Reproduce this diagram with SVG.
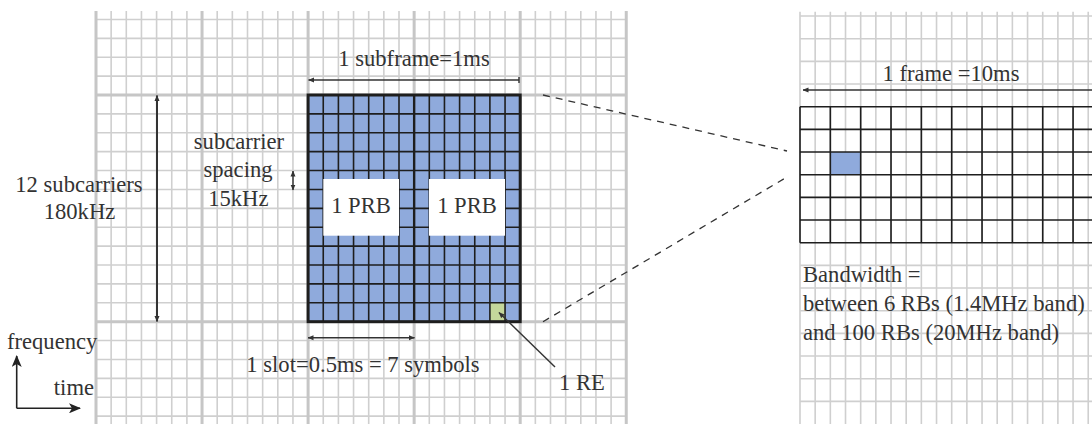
<svg xmlns="http://www.w3.org/2000/svg" width="1092" height="424" viewBox="0 0 1092 424">
<defs>
<style>
.gt{stroke:#cfcfcf;stroke-width:1.6;fill:none}
.gm{stroke:#c6c6c6;stroke-width:3;fill:none}
.bk{stroke:#1e1e1e;stroke-width:1.6;fill:none}
.bko{stroke:#1e1e1e;stroke-width:3;fill:none}
.t{font-family:"Liberation Serif","Times New Roman",serif;font-size:22.6px;fill:#333}
.m{text-anchor:middle}
.ar{stroke:#333;stroke-width:1.4;fill:none}
.dash{stroke:#333;stroke-width:1.3;stroke-dasharray:7 6;fill:none}
</style>
<marker id="sa" viewBox="0 0 6 6" refX="5.5" refY="3" markerWidth="6" markerHeight="6" markerUnits="userSpaceOnUse" orient="auto-start-reverse">
<path d="M0,0.5 L6,3 L0,5.5 Z" fill="#333"/>
</marker>
<marker id="ba" viewBox="0 0 12 10" refX="11" refY="5" markerWidth="13" markerHeight="10" markerUnits="userSpaceOnUse" orient="auto">
<path d="M0,0 L12,5 L0,10 L3,5 Z" fill="#222"/>
</marker>
</defs>
<rect width="1092" height="424" fill="#fff"/>

<g id="left-grid">
<path class="gt" d="M111.15 11V424M126.3 11V424M141.45 11V424M156.6 11V424M171.75 11V424M186.9 11V424M217.2 11V424M232.35 11V424M247.5 11V424M262.65 11V424M277.8 11V424M292.95 11V424M323.25 11V424M338.4 11V424M353.55 11V424M368.7 11V424M383.85 11V424M399 11V424M429.3 11V424M444.45 11V424M459.6 11V424M474.75 11V424M489.9 11V424M505.05 11V424M535.35 11V424M550.5 11V424M565.65 11V424M580.8 11V424M595.95 11V424M611.1 11V424"/>
<path class="gt" d="M96 19.44H626.25M96 38.33H626.25M96 57.22H626.25M96 76.11H626.25M96 113.89H626.25M96 132.78H626.25M96 151.67H626.25M96 170.56H626.25M96 189.45H626.25M96 208.34H626.25M96 227.23H626.25M96 246.12H626.25M96 265.01H626.25M96 283.9H626.25M96 302.79H626.25M96 340.57H626.25M96 359.46H626.25M96 378.35H626.25M96 397.24H626.25M96 416.13H626.25"/>
<path class="gm" d="M96 11V424M202.05 11V424M308.1 11V424M414.15 11V424M520.2 11V424M626.25 11V424M96 95H626.25M96 321.68H626.25"/>
</g>

<g id="right-grid">
<path class="gt" d="M800 11.7V424M815.17 11.7V424M830.34 11.7V424M845.51 11.7V424M860.68 11.7V424M875.85 11.7V424M891.02 11.7V424M906.19 11.7V424M921.36 11.7V424M936.53 11.7V424M951.7 11.7V424M966.87 11.7V424M982.04 11.7V424M997.21 11.7V424M1012.38 11.7V424M1027.55 11.7V424M1042.72 11.7V424M1057.89 11.7V424M1073.06 11.7V424M1088.23 11.7V424"/>
<path class="gt" d="M800 16.02H1092M800 38.69H1092M800 61.36H1092M800 84.03H1092M800 265.39H1092M800 288.06H1092M800 310.73H1092M800 333.4H1092M800 356.07H1092M800 378.74H1092M800 401.41H1092"/>
</g>

<g id="prb-block">
<rect x="308.1" y="95" width="212.1" height="226.68" fill="#8faadc"/>
<rect x="489.9" y="302.79" width="15.15" height="18.89" fill="#c4d79b"/>
<path class="bk" d="M323.25 95V321.68M338.4 95V321.68M353.55 95V321.68M368.7 95V321.68M383.85 95V321.68M399 95V321.68M429.3 95V321.68M444.45 95V321.68M459.6 95V321.68M474.75 95V321.68M489.9 95V321.68M505.05 95V321.68M308.1 113.89H520.2M308.1 132.78H520.2M308.1 151.67H520.2M308.1 170.56H520.2M308.1 189.45H520.2M308.1 208.34H520.2M308.1 227.23H520.2M308.1 246.12H520.2M308.1 265.01H520.2M308.1 283.9H520.2M308.1 302.79H520.2"/>
<path class="bk" style="stroke-width:2.4" d="M414.15 95V321.68"/>
<rect class="bko" x="308.1" y="95" width="212.1" height="226.68"/>
</g>

<g id="prb-label-1">
<rect x="323.3" y="179" width="75.7" height="56.7" fill="#fff"/>
<text class="t m" x="361" y="213">1 PRB</text>
</g>
<g id="prb-label-2">
<rect x="429" y="179" width="76" height="56.7" fill="#fff"/>
<text class="t m" x="467" y="213">1 PRB</text>
</g>

<g id="rb-grid">
<rect x="830.34" y="152.04" width="30.34" height="22.67" fill="#8faadc"/>
<path class="bk" d="M800 106.7V242.72M830.34 106.7V242.72M860.68 106.7V242.72M891.02 106.7V242.72M921.36 106.7V242.72M951.7 106.7V242.72M982.04 106.7V242.72M1012.38 106.7V242.72M1042.72 106.7V242.72M1073.06 106.7V242.72M800 106.7H1092M800 129.37H1092M800 152.04H1092M800 174.71H1092M800 197.38H1092M800 220.05H1092M800 242.72H1092"/>
</g>

<g id="connectors">
<path class="dash" d="M543 95L787 151"/>
<path class="dash" d="M543 321.7L787 177"/>
<path class="ar" d="M308.6 80H519" marker-start="url(#sa)"/>
<path class="ar" d="M519 77V83"/>
<path class="ar" d="M308 337.7H414.5" marker-start="url(#sa)" marker-end="url(#sa)"/>
<path class="ar" style="stroke-width:2" d="M157 95.5V321.5" marker-start="url(#sa)" marker-end="url(#sa)"/>
<path class="ar" d="M293 171V190" marker-start="url(#sa)" marker-end="url(#sa)"/>
<path class="ar" d="M803 90H1092" marker-start="url(#sa)"/>
<path class="ar" d="M555 367L499 312.5" marker-end="url(#sa)"/>
<path class="ar" style="stroke-width:1.6;stroke:#222" d="M16.7 408.3V356" marker-end="url(#ba)"/>
<path class="ar" style="stroke-width:1.6;stroke:#222" d="M16.7 408.3H80" marker-end="url(#ba)"/>
</g>

<g id="labels">
<text class="t m" x="414" y="66">1 subframe=1ms</text>
<text class="t m" x="239" y="149">subcarrier</text>
<text class="t m" x="238" y="177">spacing</text>
<text class="t m" x="238.3" y="206">15kHz</text>
<text class="t m" x="79" y="192">12 subcarriers</text>
<text class="t m" x="79.5" y="219">180kHz</text>
<text class="t m" x="363" y="372">1 slot=0.5ms = 7 symbols</text>
<text class="t" x="559" y="390">1 RE</text>
<text class="t" x="7" y="349">frequency</text>
<text class="t" x="94" y="395" text-anchor="end">time</text>
<text class="t m" x="951" y="81">1 frame =10ms</text>
<text class="t" x="803" y="282">Bandwidth =</text>
<text class="t" x="803" y="311">between 6 RBs (1.4MHz band)</text>
<text class="t" x="803" y="340">and 100 RBs (20MHz band)</text>
</g>
</svg>
